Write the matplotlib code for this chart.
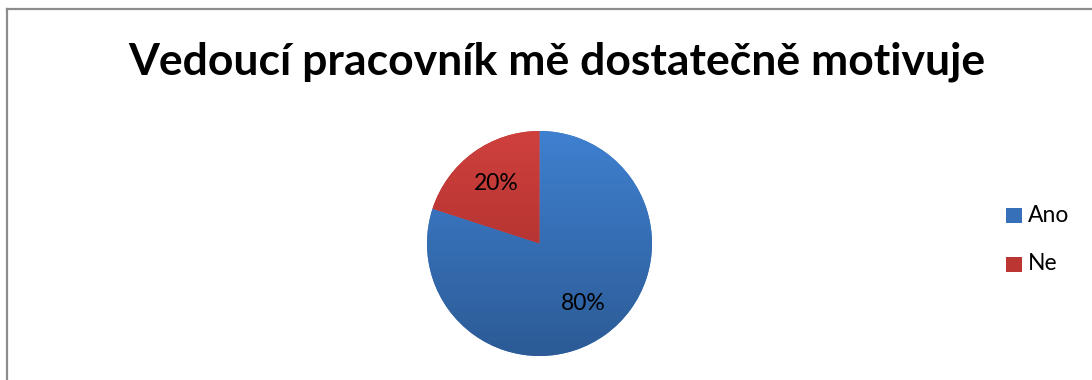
import numpy as np
import matplotlib
matplotlib.use("Agg")
import matplotlib.pyplot as plt
from matplotlib.colors import LinearSegmentedColormap
from matplotlib.patches import Rectangle
from matplotlib.lines import Line2D

title = "Vedoucí pracovník mě dostatečně motivuje"
categories = ["Ano", "Ne"]
values = [80, 20]

top_colors = ["#3f80d0", "#cf403d"]
bot_colors = ["#2c5b96", "#9e2a28"]
mid_colors = ["#3570b8", "#bb3533"]

plt.rcParams['font.family'] = ['Lato', 'DejaVu Sans']

W, H = 1092, 380
fig = plt.figure(figsize=(W / 100, H / 100), dpi=100)
fig.patch.set_facecolor("white")

# frame lines (top and left visible)
fig.add_artist(Line2D([7 / W, 1], [1 - 9 / H, 1 - 9 / H], color="#8c8c8c", lw=1.6))
fig.add_artist(Line2D([7 / W, 7 / W], [0, 1 - 9 / H], color="#8c8c8c", lw=1.6))

fig.text(557 / W, 1 - 62 / H, title, ha="center", va="center",
         fontsize=32, fontweight="bold", color="black")

cx, cy, r = 539.5, 243.5, 112.5
ax = fig.add_axes([(cx - r) / W, 1 - (cy + r) / H, 2 * r / W, 2 * r / H])
wedges, _ = ax.pie(values, startangle=90, counterclock=False,
                   colors=mid_colors, radius=1.0)
ax.set_aspect("equal")
ax.axis("off")

grad = np.linspace(0, 1, 256).reshape(-1, 1)
for w, tc, bc in zip(wedges, top_colors, bot_colors):
    cmap = LinearSegmentedColormap.from_list("g", [bc, tc])
    im = ax.imshow(grad, cmap=cmap, extent=[-1, 1, -1, 1], origin="lower",
                   aspect="auto", zorder=2)
    im.set_clip_path(w)

# percentage labels
total = sum(values)
angle = 90.0
label_r = 0.66
for v in values:
    span = 360.0 * v / total
    mid = np.deg2rad(angle - span / 2)
    ax.text(label_r * np.cos(mid), label_r * np.sin(mid), f"{v / total * 100:.0f}%",
            ha="center", va="center", fontsize=16.5, color="black", zorder=5)
    angle -= span

ax.set_xlim(-1, 1)
ax.set_ylim(-1, 1)

# legend
leg_y = [215.5, 264]
for cat, c, y in zip(categories, mid_colors, leg_y):
    fig.add_artist(Rectangle((1006 / W, 1 - (y + 7.5) / H), 16 / W, 15 / H,
                             facecolor=c, edgecolor="none"))
    fig.text(1028 / W, 1 - y / H, cat, ha="left", va="center",
             fontsize=16.5, color="black")

fig.savefig("out.png", dpi=100, facecolor="white")
